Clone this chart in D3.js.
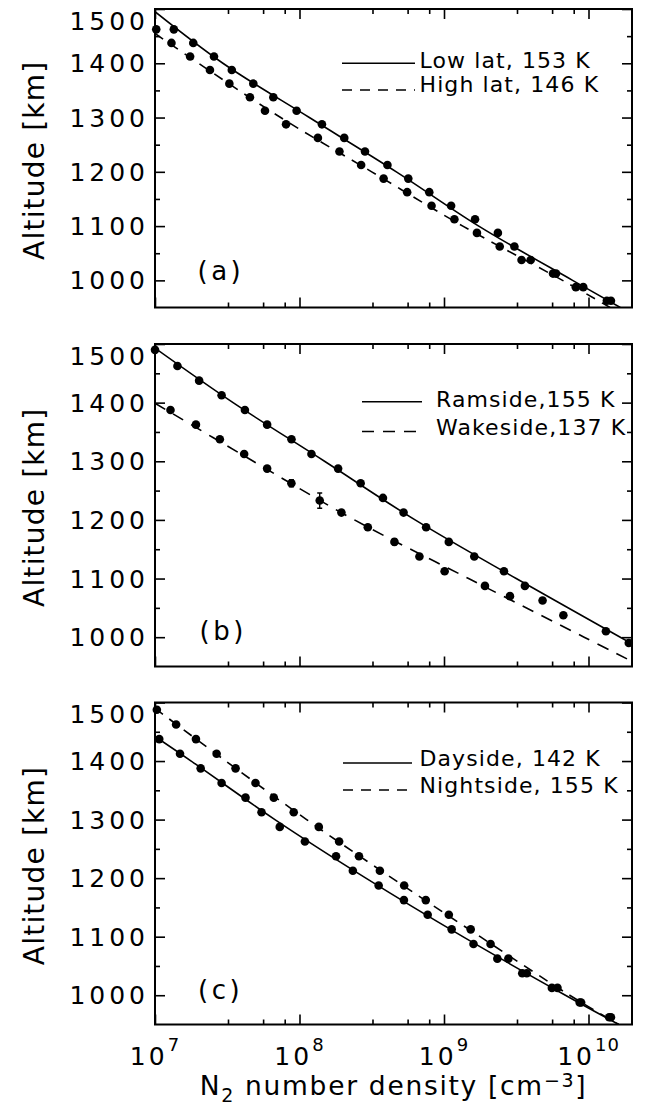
<!DOCTYPE html>
<html>
<head>
<meta charset="utf-8">
<title>N2 density profiles</title>
<script src="https://cdn.jsdelivr.net/npm/d3@7/dist/d3.min.js"></script>
<style>
  html, body { margin: 0; padding: 0; background: #fff; }
  svg { display: block; }
  text { font-family: 'DejaVu Sans', sans-serif; fill: #000; }
</style>
</head>
<body>
<svg id="fig" width="646" height="1115"></svg>
<script>
// ---------------- axis values ----------------
const xTickExps = [7, 8, 9, 10];
const xMinorMults = [3.2, 5.6, 7.9];
const yMajorTicks = [1000, 1100, 1200, 1300, 1400, 1500];
const yMinorTicks = [1050, 1150, 1250, 1350, 1450];

// ---------------- (a) low vs high latitude ----------------
const lowLatAlt = [1462.5, 1437.5, 1412.5, 1387.5, 1362.5, 1337.5, 1312.5, 1287.5, 1262.5, 1237.5, 1212.5,
                   1187.5, 1162.5, 1137.5, 1112.5, 1087.5, 1062.5, 1037.5, 1012.5, 987.5, 962.5];
const lowLatN = [1.35e7, 1.84e7, 2.56e7, 3.40e7, 4.79e7, 6.59e7, 9.55e7, 1.43e8, 2.04e8, 2.84e8, 4.06e8,
                 5.66e8, 7.91e8, 1.12e9, 1.64e9, 2.36e9, 3.07e9, 3.98e9, 5.96e9, 9.20e9, 1.43e10];
const highLatAlt = [1462.5, 1437.5, 1412.5, 1387.5, 1362.5, 1337.5, 1312.5, 1287.5, 1262.5, 1237.5, 1212.5,
                    1187.5, 1162.5, 1137.5, 1112.5, 1087.5, 1062.5, 1037.5, 1012.5, 987.5, 962.5];
const highLatN = [1.02e7, 1.30e7, 1.75e7, 2.40e7, 3.27e7, 4.54e7, 5.77e7, 8.07e7, 1.34e8, 1.89e8, 2.67e8,
                  3.82e8, 5.56e8, 8.20e8, 1.18e9, 1.69e9, 2.43e9, 3.44e9, 5.68e9, 8.17e9, 1.34e10];
const lowLatFitAlt = [1495, 1400, 1300, 1200, 1100, 1000, 950];
const lowLatFitN = [1.00e7, 2.95e7, 1.17e8, 4.68e8, 1.74e9, 7.76e9, 1.66e10];
const highLatFitAlt = [1455, 1400, 1300, 1200, 1100, 1000, 950];
const highLatFitN = [1.00e7, 2.00e7, 7.41e7, 3.16e8, 1.35e9, 6.61e9, 1.41e10];

// ---------------- (b) ramside vs wakeside ----------------
const ramAlt = [1490, 1462.5, 1437.5, 1412.5, 1387.5, 1362.5, 1337.5, 1312.5, 1287.5, 1262.5, 1237.5,
                1212.5, 1187.5, 1162.5, 1137.5, 1112.5, 1087.5, 1062.5, 1010, 990];
const ramN = [1.00e7, 1.43e7, 2.02e7, 2.89e7, 4.19e7, 5.97e7, 8.80e7, 1.21e8, 1.85e8, 2.65e8, 3.78e8,
              5.25e8, 7.52e8, 1.08e9, 1.62e9, 2.60e9, 3.63e9, 4.81e9, 1.32e10, 1.90e10];
const wakeAlt = [1387.5, 1362.5, 1337.5, 1312.5, 1287.5, 1262.5, 1233, 1212.5, 1187.5, 1162.5, 1137.5,
                 1112.5, 1087.5, 1070, 1037.5];
const wakeN = [1.28e7, 1.92e7, 2.81e7, 4.14e7, 5.97e7, 8.79e7, 1.38e8, 1.95e8, 2.97e8, 4.54e8, 6.76e8,
               1.01e9, 1.92e9, 2.86e9, 6.70e9];
const wakeAltErr = [0, 0, 0, 0, 0, 6, 13, 0, 0, 5, 0, 0, 0, 0, 0];
const ramFitAlt = [1493, 1400, 1300, 1200, 1100, 1000, 989];
const ramFitN = [1.00e7, 3.47e7, 1.49e8, 6.31e8, 3.16e9, 1.66e10, 1.99e10];
const wakeFitAlt = [1399, 1300, 1200, 1100, 1000, 959];
const wakeFitN = [1.00e7, 4.79e7, 2.40e8, 1.48e9, 9.33e9, 1.99e10];

// ---------------- (c) dayside vs nightside ----------------
const dayAlt = [1437.5, 1412.5, 1387.5, 1362.5, 1337.5, 1312.5, 1287.5, 1262.5, 1237.5, 1212.5,
                1187.5, 1162.5, 1137.5, 1112.5, 1087.5, 1062.5, 1037.5, 1012.5, 987.5, 962.5];
const dayN = [1.07e7, 1.49e7, 2.07e7, 2.89e7, 4.23e7, 5.46e7, 7.30e7, 1.09e8, 1.79e8, 2.34e8,
              3.53e8, 5.28e8, 7.71e8, 1.13e9, 1.60e9, 2.34e9, 3.48e9, 5.58e9, 8.69e9, 1.39e10];
const nightAlt = [1487.5, 1462.5, 1437.5, 1412.5, 1387.5, 1362.5, 1337.5, 1312.5, 1287.5, 1262.5, 1237.5,
                  1212.5, 1187.5, 1162.5, 1137.5, 1112.5, 1087.5, 1062.5, 1037.5, 1012.5, 987.5, 962.5];
const nightN = [1.03e7, 1.40e7, 1.92e7, 2.67e7, 3.61e7, 4.96e7, 6.64e7, 9.12e7, 1.36e8, 1.88e8, 2.58e8,
                3.60e8, 5.30e8, 7.48e8, 1.08e9, 1.53e9, 2.10e9, 2.79e9, 3.74e9, 6.10e9, 8.89e9, 1.43e10];
const dayFitAlt = [1442, 1400, 1300, 1200, 1100, 1000, 950];
const dayFitN = [1.00e7, 1.78e7, 6.76e7, 2.88e8, 1.35e9, 6.92e9, 1.62e10];
const nightFitAlt = [1490, 1400, 1300, 1200, 1100, 1000, 950];
const nightFitN = [1.00e7, 3.09e7, 1.12e8, 4.37e8, 1.78e9, 7.41e9, 1.62e10];

// ---------------- layout ----------------
const X0 = 155, X1 = 632;
const panels = [
  { tag: "(a)", top: 9, bottom: 307.5, tagX: 197.5, tagY: 280,
    legLine: [342, 415], legTextX: 419.5, legRows: [63.3, 90], legBase: [68.3, 91.7], dash: "10,8",
    series: [
      { label: "Low lat, 153 K", alt: lowLatAlt, n: lowLatN, fitAlt: lowLatFitAlt, fitN: lowLatFitN, dashed: false },
      { label: "High lat, 146 K", alt: highLatAlt, n: highLatN, fitAlt: highLatFitAlt, fitN: highLatFitN, dashed: true }
    ] },
  { tag: "(b)", top: 344, bottom: 666.5, tagX: 199.5, tagY: 639.6,
    legLine: [362, 422], legTextX: 436, legRows: [401.7, 431.5], legBase: [406.5, 434.8], dash: "12,9",
    series: [
      { label: "Ramside,155 K", alt: ramAlt, n: ramN, fitAlt: ramFitAlt, fitN: ramFitN, dashed: false },
      { label: "Wakeside,137 K", alt: wakeAlt, n: wakeN, err: wakeAltErr, fitAlt: wakeFitAlt, fitN: wakeFitN, dashed: true }
    ] },
  { tag: "(c)", top: 702.5, bottom: 1024.5, tagX: 198, tagY: 999.3,
    legLine: [343, 412], legTextX: 419.5, legRows: [763, 790], legBase: [766, 792.5], dash: "10,8",
    series: [
      { label: "Dayside, 142 K", alt: dayAlt, n: dayN, fitAlt: dayFitAlt, fitN: dayFitN, dashed: false },
      { label: "Nightside, 155 K", alt: nightAlt, n: nightN, fitAlt: nightFitAlt, fitN: nightFitN, dashed: true }
    ] }
];

const svg = d3.select("#fig");
const x = d3.scaleLog().domain([1e7, 2e10]).range([X0, X1]);
const xMajor = xTickExps.map(e => Math.pow(10, e));
const xMinor = xTickExps.slice(0, 3).flatMap(e => xMinorMults.map(m => m * Math.pow(10, e)));

panels.forEach((p, i) => {
  const y = d3.scaleLinear().domain([950, 1500]).range([p.bottom, p.top]);
  const g = svg.append("g");
  const clipId = "clip" + i;
  svg.append("clipPath").attr("id", clipId).append("rect")
    .attr("x", X0).attr("y", p.top).attr("width", X1 - X0).attr("height", p.bottom - p.top);

  // ticks on all four sides, pointing inward
  const tickGroup = (axis, tx, ty) => {
    const a = g.append("g").attr("transform", `translate(${tx},${ty})`).call(axis);
    a.select(".domain").remove();
    a.selectAll("text").remove();
    a.selectAll("line").attr("stroke", "#000").attr("stroke-width", 1.6);
  };
  tickGroup(d3.axisLeft(y).tickValues(yMajorTicks).tickSize(-10), X0, 0);
  tickGroup(d3.axisLeft(y).tickValues(yMinorTicks).tickSize(-5), X0, 0);
  tickGroup(d3.axisRight(y).tickValues(yMajorTicks).tickSize(-10), X1, 0);
  tickGroup(d3.axisRight(y).tickValues(yMinorTicks).tickSize(-5), X1, 0);
  tickGroup(d3.axisBottom(x).tickValues(xMajor).tickSize(-10), 0, p.bottom);
  tickGroup(d3.axisBottom(x).tickValues(xMinor).tickSize(-5), 0, p.bottom);
  tickGroup(d3.axisTop(x).tickValues(xMajor).tickSize(-10), 0, p.top);
  tickGroup(d3.axisTop(x).tickValues(xMinor).tickSize(-5), 0, p.top);

  // y tick labels (the top one is kept inside the panel)
  g.append("g").selectAll("text").data(yMajorTicks).join("text")
    .attr("x", 149)
    .attr("y", d => Math.max(y(d), p.top + 11.5) + 9)
    .attr("text-anchor", "end")
    .attr("font-size", 25)
    .attr("letter-spacing", 4)
    .text(d => d);

  // y axis title
  g.append("text")
    .attr("transform", `translate(43.5,${(p.top + p.bottom) / 2 + 2}) rotate(-90)`)
    .attr("text-anchor", "middle")
    .attr("font-size", 28)
    .attr("letter-spacing", 1.2)
    .text("Altitude [km]");

  // fitted profiles
  const line = d3.line().x(d => x(d[0])).y(d => y(d[1])).curve(d3.curveCatmullRom);
  const plot = g.append("g").attr("clip-path", `url(#${clipId})`);
  p.series.forEach(s => {
    plot.append("path")
      .datum(d3.zip(s.fitN, s.fitAlt))
      .attr("d", line)
      .attr("fill", "none")
      .attr("stroke", "#000")
      .attr("stroke-width", 1.6)
      .attr("stroke-dasharray", s.dashed ? p.dash : null);
  });

  // measurements
  p.series.forEach(s => {
    const pts = s.n.map((n, k) => ({ n, alt: s.alt[k], err: s.err ? s.err[k] : 0 }));
    const eb = plot.append("g").attr("stroke", "#000").attr("stroke-width", 1.4);
    pts.filter(d => d.err > 0).forEach(d => {
      eb.append("line").attr("x1", x(d.n)).attr("x2", x(d.n))
        .attr("y1", y(d.alt - d.err)).attr("y2", y(d.alt + d.err));
      [d.alt - d.err, d.alt + d.err].forEach(a => eb.append("line")
        .attr("x1", x(d.n) - 2.5).attr("x2", x(d.n) + 2.5).attr("y1", y(a)).attr("y2", y(a)));
    });
    g.append("g").selectAll("circle").data(pts).join("circle")
      .attr("cx", d => x(d.n))
      .attr("cy", d => y(d.alt))
      .attr("r", 4.3)
      .attr("fill", "#000");
  });

  // frame
  g.append("rect")
    .attr("x", X0).attr("y", p.top)
    .attr("width", X1 - X0).attr("height", p.bottom - p.top)
    .attr("fill", "none").attr("stroke", "#000").attr("stroke-width", 2);

  // legend
  p.series.forEach((s, k) => {
    g.append("line")
      .attr("x1", p.legLine[0]).attr("x2", p.legLine[1])
      .attr("y1", p.legRows[k]).attr("y2", p.legRows[k])
      .attr("stroke", "#000").attr("stroke-width", 1.6)
      .attr("stroke-dasharray", s.dashed ? p.dash : null);
    g.append("text")
      .attr("x", p.legTextX).attr("y", p.legBase[k])
      .attr("font-size", 22)
      .attr("letter-spacing", 1.1)
      .text(s.label);
  });

  // panel tag
  g.append("text")
    .attr("x", p.tagX).attr("y", p.tagY)
    .attr("font-size", 26)
    .attr("letter-spacing", 3.5)
    .text(p.tag);
});

// x tick labels (bottom panel only)
const lastBottom = panels[panels.length - 1].bottom;
const xl = svg.append("g").selectAll("text").data(xTickExps).join("text")
  .attr("x", d => x(Math.pow(10, d)))
  .attr("y", lastBottom + 40)
  .attr("text-anchor", "middle")
  .attr("font-size", 25)
  .attr("letter-spacing", 3);
xl.append("tspan").text("10");
xl.append("tspan").attr("dy", -14).attr("font-size", 18).attr("letter-spacing", 1).text(d => d);

// x axis title
const xt = svg.append("text")
  .attr("x", (X0 + X1) / 2)
  .attr("y", 1095)
  .attr("text-anchor", "middle")
  .attr("font-size", 26.5)
  .attr("letter-spacing", 1.7);
xt.append("tspan").text("N");
xt.append("tspan").attr("dy", 7).attr("font-size", 19).text("2");
xt.append("tspan").attr("dy", -7).text(" number density [cm");
xt.append("tspan").attr("dy", -8).attr("font-size", 19).text("−3");
xt.append("tspan").attr("dy", 8).text("]");
</script>
</body>
</html>
